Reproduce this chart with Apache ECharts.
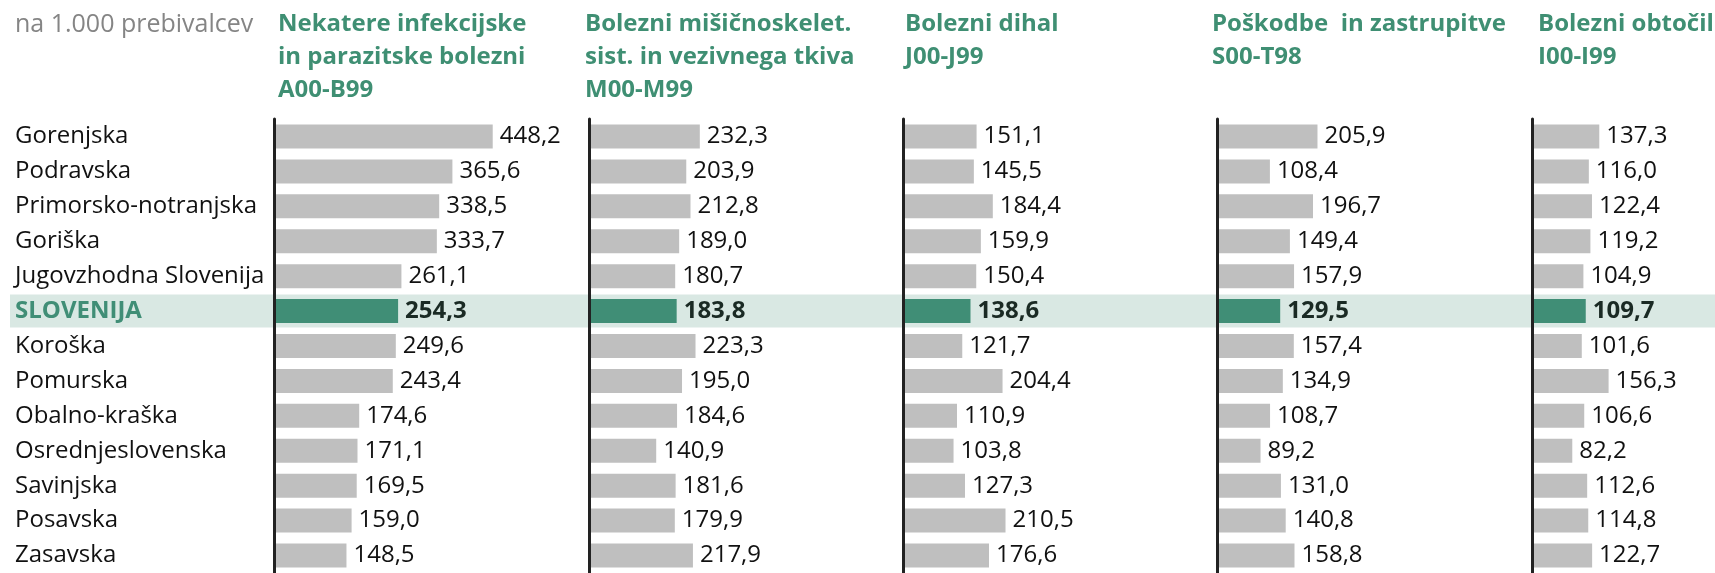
<!DOCTYPE html>
<html>
<head>
<meta charset="utf-8">
<script src="https://cdn.jsdelivr.net/npm/echarts@6/dist/echarts.min.js"></script>
<style>
  html, body { margin: 0; padding: 0; background: #fff; }
  #main { width: 1715px; height: 573px; }
</style>
</head>
<body>
<div id="main"></div>
<script>
// regije
var categories = ['Gorenjska', 'Podravska', 'Primorsko-notranjska', 'Goriška', 'Jugovzhodna Slovenija',
  'SLOVENIJA', 'Koroška', 'Pomurska', 'Obalno-kraška', 'Osrednjeslovenska', 'Savinjska', 'Posavska', 'Zasavska'];

// vrednosti na 1.000 prebivalcev
var infekcijske = [448.2, 365.6, 338.5, 333.7, 261.1, 254.3, 249.6, 243.4, 174.6, 171.1, 169.5, 159.0, 148.5];
var misicnoskelet = [232.3, 203.9, 212.8, 189.0, 180.7, 183.8, 223.3, 195.0, 184.6, 140.9, 181.6, 179.9, 217.9];
var dihala = [151.1, 145.5, 184.4, 159.9, 150.4, 138.6, 121.7, 204.4, 110.9, 103.8, 127.3, 210.5, 176.6];
var poskodbe = [205.9, 108.4, 196.7, 149.4, 157.9, 129.5, 157.4, 134.9, 108.7, 89.2, 131.0, 140.8, 158.8];
var obtocila = [137.3, 116.0, 122.4, 119.2, 104.9, 109.7, 101.6, 156.3, 106.6, 82.2, 112.6, 114.8, 122.7];

var titles = ['Nekatere infekcijske\nin parazitske bolezni\nA00-B99',
  'Bolezni mišičnoskelet.\nsist. in vezivnega tkiva\nM00-M99',
  'Bolezni dihal\nJ00-J99',
  'Poškodbe  in zastrupitve\nS00-T98',
  'Bolezni obtočil\nI00-I99'];
var unitText = 'na 1.000 prebivalcev';
var highlight = 'SLOVENIJA';

var GREEN = '#408e76';
var GREY = '#bfbfbf';
var FONT = '"Open Sans", "Noto Sans", sans-serif';

// postavitev panelov
var panels = [
  { data: infekcijske, left: 274, width: 300, scale: 0.488, titleLeft: 278 },
  { data: misicnoskelet, left: 589, width: 300, scale: 0.477, titleLeft: 585 },
  { data: dihala, left: 903, width: 300, scale: 0.487, titleLeft: 905 },
  { data: poskodbe, left: 1217, width: 300, scale: 0.488, titleLeft: 1212 },
  { data: obtocila, left: 1532, width: 183, scale: 0.49, titleLeft: 1538 }
];
var TOP = 119, HEIGHT = 456;

function fmt(v) {
  return v.toFixed(1).replace('.', ',');
}

var grid = [], xAxis = [], yAxis = [], series = [], title = [];

// ozadje za vrstico SLOVENIJA
grid.push({ left: 10, right: 0, top: TOP, height: HEIGHT });
xAxis.push({ gridIndex: 0, type: 'value', min: 0, max: 1, show: false });
yAxis.push({ gridIndex: 0, type: 'category', inverse: true, data: categories, show: false });
series.push({
  type: 'bar', xAxisIndex: 0, yAxisIndex: 0, barWidth: 33, silent: true, z: 1,
  itemStyle: { color: '#d9e8e3' },
  data: categories.map(function (c) { return c === highlight ? 1 : 0; })
});

title.push({
  text: unitText, left: 15, top: 8, padding: 0,
  textStyle: { fontFamily: FONT, fontSize: 25, fontWeight: 'normal', color: '#858585', lineHeight: 33 }
});

for (var i = 0; i < panels.length; i++) {
  var p = panels[i], gi = i + 1;
  grid.push({ left: p.left, width: p.width, top: TOP, height: HEIGHT });
  xAxis.push({ gridIndex: gi, type: 'value', min: 0, max: p.width / p.scale, show: false });
  yAxis.push({
    gridIndex: gi, type: 'category', inverse: true, data: categories, z: 5,
    axisLine: { show: true, lineStyle: { color: '#222', width: 3 } },
    axisTick: { show: false },
    axisLabel: i === 0 ? {
      show: true, align: 'left', margin: p.left - 15,
      fontFamily: FONT, fontSize: 24, color: '#111',
      formatter: function (v) { return v === highlight ? '{h|' + v + '}' : v; },
      rich: { h: { fontFamily: FONT, fontSize: 24, fontWeight: 'bold', color: GREEN } }
    } : { show: false }
  });
  series.push({
    type: 'bar', xAxisIndex: gi, yAxisIndex: gi, barWidth: 24, z: 3,
    data: p.data.map(function (v, k) {
      var hl = categories[k] === highlight;
      return {
        value: v,
        itemStyle: { color: hl ? GREEN : GREY },
        label: hl ? { fontWeight: 'bold', color: '#1a2a24' } : {}
      };
    }),
    label: {
      show: true, position: 'right', distance: 7,
      fontFamily: FONT, fontSize: 24, color: '#111',
      formatter: function (pr) { return fmt(pr.value); }
    }
  });
  title.push({
    text: titles[i], left: p.titleLeft, top: 8, padding: 0,
    textStyle: { fontFamily: FONT, fontSize: 24, fontWeight: 'bold', color: '#3f8f73', lineHeight: 33 }
  });
}

var myChart = echarts.init(document.getElementById('main'), null, { renderer: 'canvas' });
myChart.setOption({
  animation: false,
  backgroundColor: '#fff',
  title: title,
  grid: grid,
  xAxis: xAxis,
  yAxis: yAxis,
  series: series
});
</script>
</body>
</html>
